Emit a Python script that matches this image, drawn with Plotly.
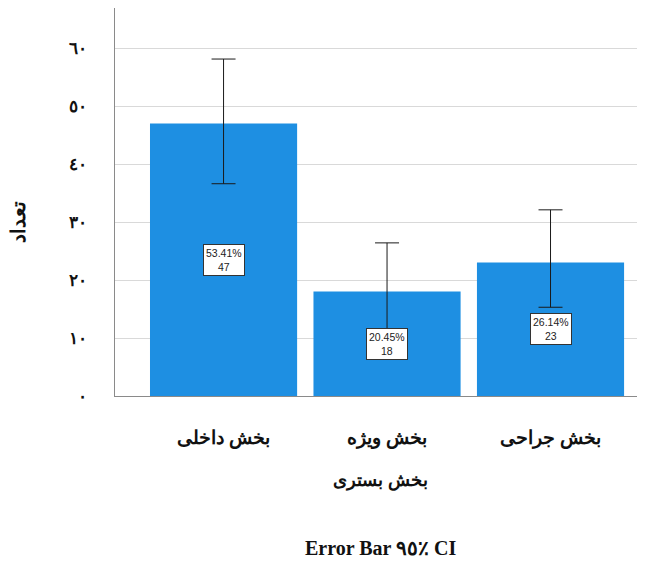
import plotly.graph_objects as go

categories = ["بخش داخلی", "بخش ویژه", "بخش جراحی"]
counts = [47, 18, 23]
percents = ["53.41%", "20.45%", "26.14%"]
ci_upper = [58.1, 26.4, 32.1]
ci_lower = [36.6, 11.2, 15.3]
y_tick_vals = [0, 10, 20, 30, 40, 50, 60]
y_tick_text = ["٠", "١٠", "٢٠", "٣٠", "٤٠", "٥٠", "٦٠"]

x_idx = list(range(len(categories)))
err_plus = [u - c for u, c in zip(ci_upper, counts)]
err_minus = [c - l for c, l in zip(counts, ci_lower)]

# page body has an 8px margin, so work in (reference px - 8)
OFF = 8
L, R, T, B = 115 - OFF, 637 - OFF, 8 - OFF, 396 - OFF
PW, PH = R - L, B - T


def px_x(x):
    return (x - OFF - L) / PW


def px_y(y):
    return (B - (y - OFF)) / PH


fig = go.Figure()
fig.add_trace(go.Bar(
    x=x_idx, y=counts, width=0.9,
    marker=dict(color="#1e8fe2", line=dict(width=0)),
    error_y=dict(type="data", array=err_plus, arrayminus=err_minus,
                 color="#1a1a1a", thickness=1, width=12),
    hoverinfo="skip",
))

for i, (c, p) in enumerate(zip(counts, percents)):
    fig.add_annotation(
        x=i, y=c / 2, xref="x", yref="y",
        text=f"{p}<br>{c}", showarrow=False,
        font=dict(family="Liberation Sans Narrow, Arial Narrow, Liberation Sans", size=10.5, color="#222"),
        bgcolor="white", bordercolor="#333", borderwidth=1, borderpad=2,
    )

serif = "Liberation Serif, DejaVu Serif, serif"
fig.add_annotation(x=px_x(380), y=px_y(480), xref="paper", yref="paper",
                   xanchor="center", yanchor="middle",
                   text="<b>بخش بستری</b>", showarrow=False,
                   font=dict(family=serif, size=18, color="#111"))
fig.add_annotation(x=px_x(381), y=px_y(548), xref="paper", yref="paper",
                   xanchor="center", yanchor="middle",
                   text="<b>Error Bar ٩٥٪ CI</b>", showarrow=False,
                   font=dict(family=serif, size=20, color="#111"))
fig.add_annotation(x=px_x(18), y=px_y(222), xref="paper", yref="paper",
                   xanchor="center", yanchor="middle",
                   text="<b>تعداد</b>", showarrow=False, textangle=-90,
                   font=dict(family=serif, size=20, color="#111"))

fig.update_layout(
    width=649, height=561,
    margin=dict(l=L, r=649 - R, t=T, b=561 - B, pad=0),
    plot_bgcolor="white", paper_bgcolor="white",
    showlegend=False,
    font=dict(family=serif, color="#111"),
)
fig.update_xaxes(
    range=[-0.664, 2.529], tickmode="array", tickvals=x_idx,
    ticktext=[f"<b>{c}</b>" for c in categories],
    tickfont=dict(family=serif, size=19, color="#111"),
    showline=True, linecolor="#8a8a8a", linewidth=1,
    showgrid=False, ticks="", ticklabelstandoff=24,
    zeroline=False,
)
fig.update_yaxes(
    range=[0, 66.9], tickmode="array", tickvals=y_tick_vals,
    ticktext=[f"<b>{t}</b>" for t in y_tick_text],
    tickfont=dict(family=serif, size=17, color="#111"),
    showline=True, linecolor="#8a8a8a", linewidth=1,
    showgrid=True, gridcolor="#d9d9d9", gridwidth=1,
    ticks="", ticklabelstandoff=24, zeroline=False,
)

fig.write_html("out.html")
